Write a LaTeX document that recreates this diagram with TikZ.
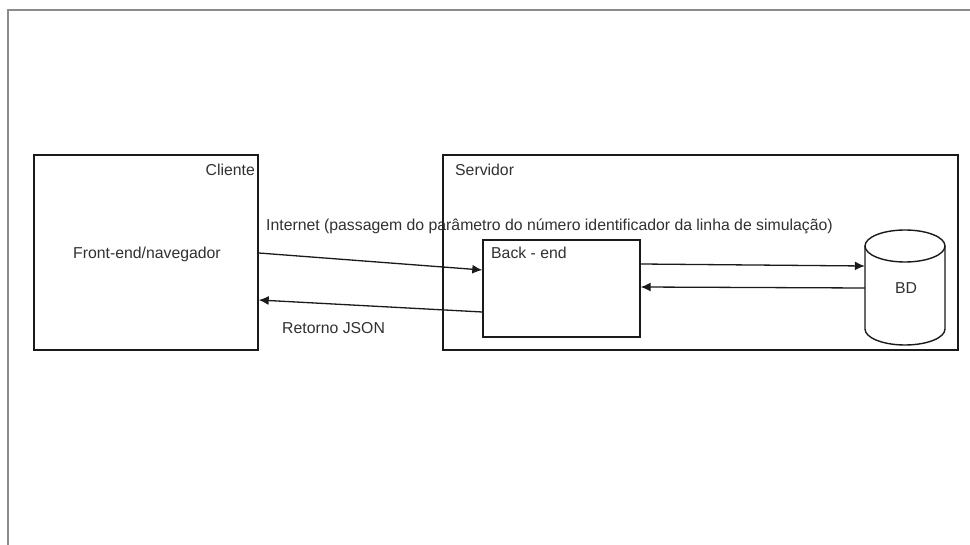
\documentclass[tikz,border=0pt]{standalone}
\usepackage{fontspec}
\setmainfont{Liberation Sans}
\usetikzlibrary{arrows.meta}
\definecolor{framegray}{HTML}{8C8C8C}
\definecolor{ink}{HTML}{1A1A1A}
\tikzset{
  box/.style={draw=ink, line width=1.4pt, rectangle, inner sep=0pt},
  lbl/.style={text=ink!90, font=\fontsize{15.8}{19}\selectfont, inner sep=0pt},
  arr/.style={draw=ink, line width=1.3pt, -{Latex[length=10pt,width=9pt]}}
}
\begin{document}
\begin{tikzpicture}[x=1pt,y=-1pt]
\useasboundingbox (0,0) rectangle (970,545);
\fill[white] (0,0) rectangle (970,545);
% page frame
\draw[framegray, line width=1.4pt] (8,545) -- (8,10) -- (970,10);

% client side
\node[box, minimum width=224pt, minimum height=195pt] (cliente) at (146,252.5) {};
\node[lbl, anchor=east] (clientelbl) at (255,170) {Cliente};
\node[lbl] (frontend) at (147,254) {Front-end/navegador};

% server side
\node[box, minimum width=515pt, minimum height=195pt] (servidor) at (700.5,252.5) {};
\node[lbl, anchor=west] (servidorlbl) at (455,170) {Servidor};
\node[box, minimum width=157pt, minimum height=97pt] (be) at (561.5,288.5) {};
\node[lbl, anchor=west] (belbl) at (491,253) {Back - end};

% database cylinder
\node[minimum width=80pt, minimum height=115pt, inner sep=0pt] (bdbox) at (905,287.5) {};
\draw[ink, line width=1.4pt, fill=white] (865,246) -- (865,329)
  arc[start angle=180, end angle=360, x radius=40pt, y radius=16pt] -- (945,246);
\draw[ink, line width=1.4pt] (905,246) ellipse [x radius=40pt, y radius=16pt];
\node[lbl] (bd) at (906,288) {BD};

% connectors
\draw[arr] ([yshift=-0.5pt]cliente.east) -- ([yshift=18.5pt]be.west);
\draw[arr] ([yshift=-23.5pt]be.west) -- ([yshift=-47.5pt]cliente.east);
\draw[arr] ([yshift=24.5pt]be.east) -- ([yshift=21.5pt]bdbox.west);
\draw[arr] ([yshift=-0.5pt]bdbox.west) -- ([yshift=1.5pt]be.east);

% connector labels
\node[lbl, anchor=west] (internet) at (266,226) {Internet (passagem do parâmetro do número identificador da linha de simulação)};
\node[lbl, anchor=west] (retorno) at (282,328) {Retorno JSON};
\end{tikzpicture}
\end{document}
